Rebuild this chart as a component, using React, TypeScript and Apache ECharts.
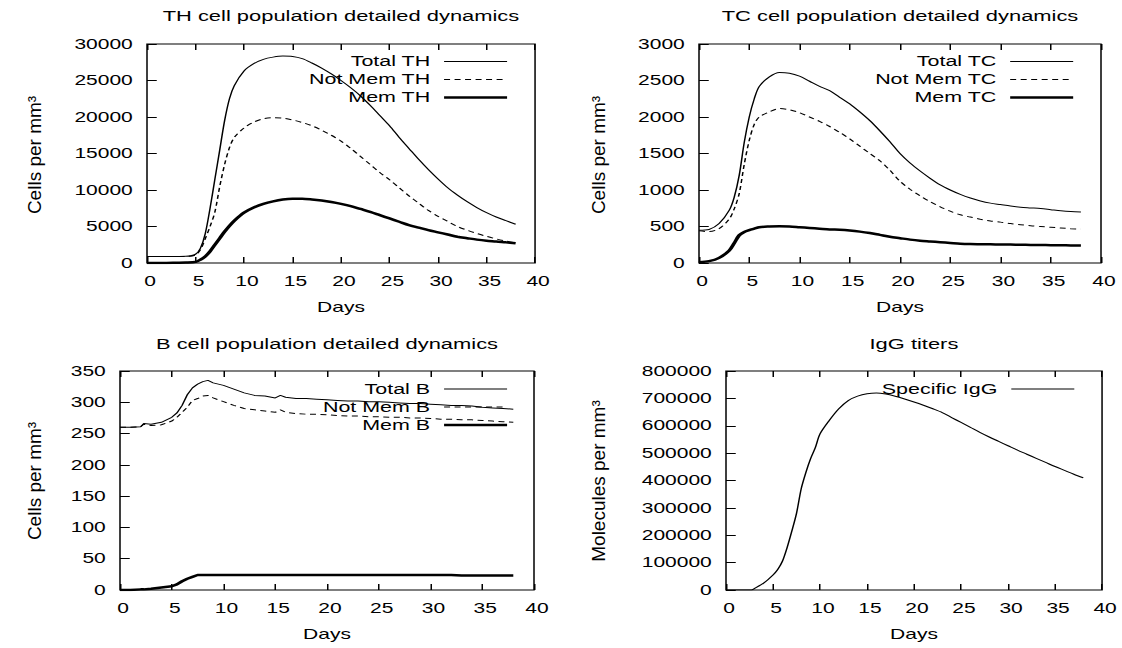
import React, { useEffect, useRef } from 'react';
import * as echarts from 'echarts';

const FONT = '"Liberation Sans", Arial, Helvetica, sans-serif';
const STRETCH = 1.5;
const W = 748;
const H = 648;

// ---------- DATA ----------
const thDays = [0, 1, 2, 3, 4, 5, 5.5, 6, 6.5, 7, 7.5, 8, 8.5, 9, 10, 11, 12, 13, 14, 15, 16, 17, 18, 19, 20, 21, 22, 23, 24, 25, 26, 27, 28, 29, 30, 31, 32, 33, 34, 35, 36, 37, 38];
const totalTH = [900, 900, 900, 900, 920, 1200, 2000, 4000, 7500, 11500, 15500, 19500, 22500, 24300, 26300, 27300, 27900, 28200, 28350, 28300, 28000, 27400, 26700, 25900, 25000, 24000, 22900, 21600, 20200, 18800, 17200, 15700, 14200, 12800, 11500, 10300, 9300, 8400, 7600, 6900, 6300, 5800, 5300];
const notMemTH = [900, 900, 900, 900, 900, 1100, 1800, 3300, 5000, 7000, 10500, 13500, 15800, 17200, 18500, 19300, 19750, 19900, 19850, 19600, 19250, 18800, 18200, 17500, 16700, 15700, 14600, 13500, 12400, 11400, 10300, 9200, 8200, 7200, 6400, 5700, 5000, 4500, 4050, 3650, 3300, 3000, 2750];
const memTH = [0, 0, 0, 30, 60, 150, 450, 900, 1600, 2500, 3400, 4300, 5100, 5800, 6900, 7600, 8100, 8450, 8700, 8800, 8800, 8700, 8550, 8350, 8100, 7800, 7400, 7000, 6550, 6100, 5650, 5200, 4850, 4500, 4200, 3900, 3600, 3400, 3200, 3050, 2950, 2830, 2720];

const tcDays = [0, 1, 2, 3, 3.5, 4, 4.5, 5, 5.5, 6, 7, 8, 9, 10, 11, 12, 13, 14, 15, 16, 17, 18, 19, 20, 21, 22, 23, 24, 25, 26, 27, 28, 29, 30, 31, 32, 33, 34, 35, 36, 37, 38];
const totalTC = [450, 460, 540, 720, 900, 1200, 1650, 2000, 2250, 2420, 2550, 2610, 2600, 2560, 2490, 2420, 2360, 2270, 2180, 2070, 1950, 1810, 1660, 1500, 1370, 1260, 1160, 1070, 1000, 940, 890, 850, 820, 800, 780, 765, 755, 745, 730, 715, 705, 700];
const notMemTC = [440, 430, 470, 600, 740, 950, 1350, 1680, 1900, 2000, 2070, 2115, 2100, 2060, 2000, 1940, 1870, 1790, 1700, 1600, 1500, 1400, 1270, 1120, 1010, 920, 840, 770, 710, 660, 630, 600, 575, 560, 540, 525, 510, 500, 490, 480, 470, 465];
const memTC = [10, 25, 70, 170, 270, 380, 425, 450, 470, 490, 500, 505, 500, 490, 480, 470, 460, 455, 445, 430, 410, 385, 360, 340, 320, 305, 295, 285, 275, 265, 260, 258, 256, 254, 252, 250, 248, 246, 244, 242, 241, 240];

const bDays = [0, 1, 2, 2.3, 3, 4, 5, 5.5, 6, 6.5, 7, 7.5, 8, 8.5, 9, 10, 11, 12, 13, 14, 15, 15.5, 16, 17, 18, 19, 20, 21, 22, 23, 24, 25, 26, 27, 28, 29, 30, 31, 32, 33, 34, 35, 36, 37, 38];
const totalB = [260, 260, 261, 266, 265, 268, 276, 283, 295, 312, 323, 329, 333, 335, 331, 327, 321, 315, 311, 310, 307, 311, 308, 306, 306, 305, 304, 303, 302, 302, 301, 301, 300, 299, 298, 298, 297, 296, 295, 295, 294, 292, 291, 290, 289];
const notMemB = [260, 260, 261, 265, 263, 264, 270, 276, 284, 292, 303, 306, 310, 311, 307, 301, 295, 290, 288, 286, 284, 288, 284, 282, 281, 281, 280, 279, 278, 278, 277, 277, 276, 276, 275, 275, 274, 273, 273, 272, 272, 271, 270, 269, 268];
const memB = [0, 0, 1, 1, 2, 4, 6, 9, 14, 18, 21, 24, 24, 24, 24, 24, 24, 24, 24, 24, 24, 24, 24, 24, 24, 24, 24, 24, 24, 24, 24, 24, 24, 24, 24, 24, 24, 24, 24, 23, 23, 23, 23, 23, 23];

const iggDays = [0, 1, 2, 2.7, 3, 4, 5, 5.5, 6, 6.5, 7, 7.5, 8, 8.5, 9, 9.5, 10, 11, 12, 13, 14, 15, 16, 17, 18, 19, 20, 21, 22, 23, 24, 25, 26, 27, 28, 29, 30, 31, 32, 33, 34, 35, 36, 37, 38];
const specificIgG = [0, 0, 0, 0, 5000, 25000, 55000, 75000, 105000, 155000, 215000, 280000, 370000, 430000, 480000, 520000, 570000, 620000, 662000, 692000, 708000, 717000, 720000, 716000, 708000, 698000, 687000, 675000, 662000, 648000, 630000, 612000, 594000, 576000, 559000, 543000, 527000, 511000, 496000, 481000, 466000, 451000, 437000, 423000, 410000];

const titles = ['TH cell population detailed dynamics', 'TC cell population detailed dynamics', 'B cell population detailed dynamics', 'IgG titers'];
const yNames = ['Cells per mm³', 'Cells per mm³', 'Cells per mm³', 'Molecules per mm³'];
const xName = 'Days';
const yMax = [30000, 3000, 350, 800000];
const yStep = [5000, 500, 50, 100000];
const xMax = 40;
const xStep = 5;

// ---------- LAYOUT (unstretched px) ----------
const grids = [
  { left: 98, top: 44, width: 258.7, height: 219 },
  { left: 466, top: 44, width: 268, height: 219 },
  { left: 80, top: 371, width: 276, height: 219 },
  { left: 484, top: 371, width: 250.7, height: 219 },
];
const titlePos = [[227.3, 15.8], [600, 15.8], [218, 344], [609.3, 344]];
const yNamePos = [[23, 155], [398.7, 155], [23, 481], [398.7, 481]];
const legendPos = [
  { right: 408.7, top: 54.5 },
  { right: 31.3, top: 54.5 },
  { right: 408.7, top: 381.9 },
  { right: 31.3, top: 381.9 },
];

const SOLID = { type: 'solid', width: 1 };
const DASH = { type: [4, 3], width: 1 };
const THICK = { type: 'solid', width: 2.5 };

function pairs(xs: number[], ys: number[]) {
  return xs.map((x, i) => [x, ys[i]]);
}

const panels = [
  { series: [
    { name: 'Total TH', data: pairs(thDays, totalTH), style: SOLID },
    { name: 'Not Mem TH', data: pairs(thDays, notMemTH), style: DASH },
    { name: 'Mem TH', data: pairs(thDays, memTH), style: THICK },
  ], smooth: 0.3 },
  { series: [
    { name: 'Total TC', data: pairs(tcDays, totalTC), style: SOLID },
    { name: 'Not Mem TC', data: pairs(tcDays, notMemTC), style: DASH },
    { name: 'Mem TC', data: pairs(tcDays, memTC), style: THICK },
  ], smooth: 0.3 },
  { series: [
    { name: 'Total B', data: pairs(bDays, totalB), style: SOLID },
    { name: 'Not Mem B', data: pairs(bDays, notMemB), style: DASH },
    { name: 'Mem B', data: pairs(bDays, memB), style: THICK },
  ], smooth: false },
  { series: [
    { name: 'Specific IgG', data: pairs(iggDays, specificIgG), style: SOLID },
  ], smooth: 0.3 },
];

const plain = (v: number) => String(v);

function buildOption() {
  const grid: any[] = [];
  const xAxis: any[] = [];
  const yAxis: any[] = [];
  const series: any[] = [];
  const legend: any[] = [];
  const graphic: any[] = [];

  panels.forEach((p, i) => {
    grid.push({
      ...grids[i],
      show: true,
      borderColor: '#000',
      borderWidth: 1,
      backgroundColor: 'transparent',
      containLabel: false,
      outerBoundsMode: 'none',
    });
    xAxis.push({
      type: 'value', gridIndex: i, position: 'bottom', min: 0, max: xMax, interval: xStep,
      axisLine: { show: false },
      axisTick: { show: true, inside: true, length: 6, lineStyle: { color: '#000', width: 1 } },
      axisLabel: { show: true, color: '#000', fontSize: 14, fontFamily: FONT, margin: 11, padding: [0, 0, 0, 4], showMinLabel: true, showMaxLabel: true, formatter: plain },
      splitLine: { show: false },
      name: xName, nameLocation: 'middle', nameGap: 37,
      nameTextStyle: { color: '#000', fontSize: 14, fontFamily: FONT },
    });
    xAxis.push({
      type: 'value', gridIndex: i, position: 'top', min: 0, max: xMax, interval: xStep,
      axisLine: { show: false },
      axisTick: { show: true, inside: true, length: 6, lineStyle: { color: '#000', width: 1 } },
      axisLabel: { show: false },
      splitLine: { show: false },
    });
    yAxis.push({
      type: 'value', gridIndex: i, position: 'left', min: 0, max: yMax[i], interval: yStep[i],
      axisLine: { show: false },
      axisTick: { show: true, inside: true, length: 6.5, lineStyle: { color: '#000', width: 1 } },
      axisLabel: { show: true, color: '#000', fontSize: 14, fontFamily: FONT, margin: 9.5, showMinLabel: true, showMaxLabel: true, formatter: plain },
      splitLine: { show: false },
    });
    p.series.forEach((s) => {
      series.push({
        type: 'line',
        name: s.name,
        xAxisIndex: 2 * i,
        yAxisIndex: i,
        data: s.data,
        symbol: 'none',
        showSymbol: false,
        smooth: p.smooth,
        lineStyle: { color: '#000', width: s.style.width, type: s.style.type },
        itemStyle: { color: '#000' },
        emphasis: { disabled: true },
        z: 3,
      });
    });
    legend.push({
      data: p.series.map((s) => ({
        name: s.name,
        lineStyle: { color: '#000', width: s.style.width, type: s.style.type },
        itemStyle: { color: 'transparent', borderColor: 'transparent', borderWidth: 0, opacity: 0 },
      })),
      orient: 'vertical',
      align: 'right',
      right: legendPos[i].right,
      top: legendPos[i].top,
      padding: 0,
      itemWidth: 42,
      itemHeight: 14,
      itemGap: 4,
      selectedMode: false,
      itemStyle: { color: 'transparent', borderColor: 'transparent', borderWidth: 0, opacity: 0 },
      textStyle: { color: '#000', fontSize: 14.3, fontFamily: FONT, fontWeight: 'normal', padding: [0, 4.3, 0, 0] },
    });
    graphic.push({
      type: 'text',
      x: titlePos[i][0],
      y: titlePos[i][1],
      silent: true,
      style: { text: titles[i], fontSize: 14.6, fontFamily: FONT, fontWeight: 'normal', fill: '#000', stroke: 'none', lineWidth: 0, align: 'center', verticalAlign: 'middle' },
    });
    graphic.push({
      type: 'text',
      x: yNamePos[i][0],
      y: yNamePos[i][1],
      rotation: Math.PI / 2,
      scaleY: 1 / STRETCH,
      silent: true,
      style: { text: yNames[i], fontSize: 19, fontFamily: FONT, fontWeight: 'normal', fill: '#000', stroke: 'none', lineWidth: 0, align: 'center', verticalAlign: 'middle' },
    });
  });

  return {
    animation: false,
    backgroundColor: '#fff',
    grid,
    xAxis,
    yAxis,
    series,
    legend,
    graphic,
    tooltip: { show: false },
  };
}

export default function App() {
  const ref = useRef<HTMLDivElement>(null);
  useEffect(() => {
    if (!ref.current) return;
    const chart = echarts.init(ref.current, null, { renderer: 'svg' });
    chart.setOption(buildOption() as any);
    return () => {
      chart.dispose();
    };
  }, []);
  return (
    <div
      ref={ref}
      style={{
        position: 'absolute',
        left: 0,
        top: 0,
        width: W,
        height: H,
        transform: `scaleX(${STRETCH})`,
        transformOrigin: '0 0',
        background: '#fff',
      }}
    />
  );
}
